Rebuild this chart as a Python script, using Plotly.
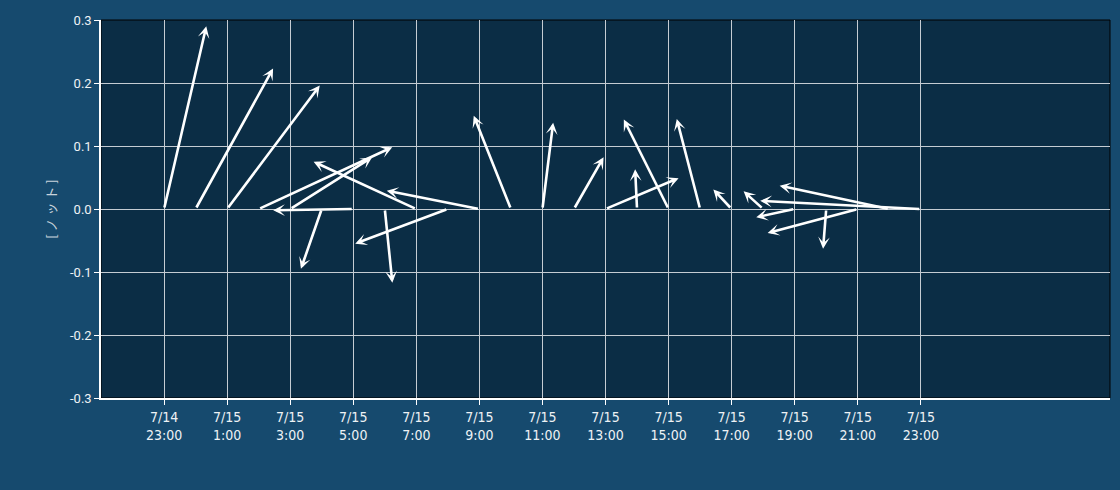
import pandas as pd
import plotly.graph_objects as go

# Observation times (hourly), east (u) and north (v) components in knots
times = pd.date_range("2024-07-14 23:00", "2024-07-15 23:00", freq="h")
u_knots = [0.067, 0.123, 0.147, 0.212, 0.130, -0.033, -0.127, 0.012, -0.163,
           -0.147, -0.147, -0.059, 0.017, 0.047, 0.116, -0.003, -0.071, -0.037,
           -0.029, -0.031, -0.061, -0.005, -0.143, -0.174, -0.255]
v_knots = [0.290, 0.223, 0.196, 0.098, 0.082, -0.095, -0.002, -0.117, 0.075,
           -0.055, 0.029, 0.148, 0.137, 0.082, 0.049, 0.063, 0.142, 0.143,
           0.031, 0.028, -0.013, -0.063, -0.038, 0.037, 0.013]

tick_times = pd.date_range("2024-07-14 23:00", "2024-07-15 23:00", freq="2h")
tick_text = [f"{t.month}/{t.day}<br>{t.hour}:00" for t in tick_times]
y_ticks = [-0.3, -0.2, -0.1, 0.0, 0.1, 0.2, 0.3]
y_tick_text = [f"{v:.1f}" for v in y_ticks]

x_range = [pd.Timestamp("2024-07-14 21:00"), pd.Timestamp("2024-07-16 05:00")]
y_range = [-0.3, 0.3]

# keep arrows isotropic: 1 knot horizontally spans the same pixels as 1 knot vertically
plot_w = 1009
plot_h = 378
hours_span = (x_range[1] - x_range[0]).total_seconds() / 3600
knot_to_hours = (plot_h / (y_range[1] - y_range[0])) / (plot_w / hours_span)

fig = go.Figure()
# invisible trace to establish axes
fig.add_trace(go.Scatter(x=list(times), y=[0] * len(times), mode="markers",
                         marker=dict(size=1, color="rgba(0,0,0,0)"),
                         hoverinfo="skip", showlegend=False))

for t, u, v in zip(times, u_knots, v_knots):
    tip = t + pd.Timedelta(hours=u * knot_to_hours)
    fig.add_annotation(x=tip, y=v, ax=t, ay=0, xref="x", yref="y",
                       axref="x", ayref="y", showarrow=True, text="",
                       arrowhead=3, arrowsize=0.75, arrowwidth=2.6,
                       arrowcolor="#ffffff", standoff=0, startstandoff=0)

fig.add_shape(type="rect", xref="paper", yref="paper", x0=0, x1=1, y0=0, y1=1,
              line=dict(color="#000000", width=1), layer="below")

fig.update_layout(
    width=1120, height=490,
    margin=dict(l=101, r=10, t=20, b=92),
    paper_bgcolor="#164a6e",
    plot_bgcolor="#0b2d45",
    font=dict(family="DejaVu Sans Condensed, Roboto, sans-serif", color="#eef2f5", size=13),
    showlegend=False,
)
fig.update_xaxes(
    type="date", range=x_range, tickvals=list(tick_times), ticktext=tick_text,
    showgrid=True, gridcolor="#c5ccd3", gridwidth=1,
    showline=True, linecolor="#ffffff", linewidth=1.5,
    ticks="outside", ticklen=5, tickcolor="#ffffff",
    tickfont=dict(family="DejaVu Sans Condensed, Roboto, sans-serif", size=14, color="#eef2f5"),
    zeroline=False,
)
fig.update_yaxes(
    range=y_range, tickvals=y_ticks, ticktext=y_tick_text,
    showgrid=True, gridcolor="#c5ccd3", gridwidth=1,
    showline=True, linecolor="#ffffff", linewidth=1.5,
    ticks="outside", ticklen=5, tickcolor="#ffffff",
    tickfont=dict(family="Roboto, sans-serif", size=13, color="#eef2f5"),
    zeroline=False,
    title=dict(text="[ ノ ッ ト ]", standoff=10,
               font=dict(family="Noto Sans CJK JP", size=13, color="#c8d3dc")),
)

fig.write_html("out.html")
